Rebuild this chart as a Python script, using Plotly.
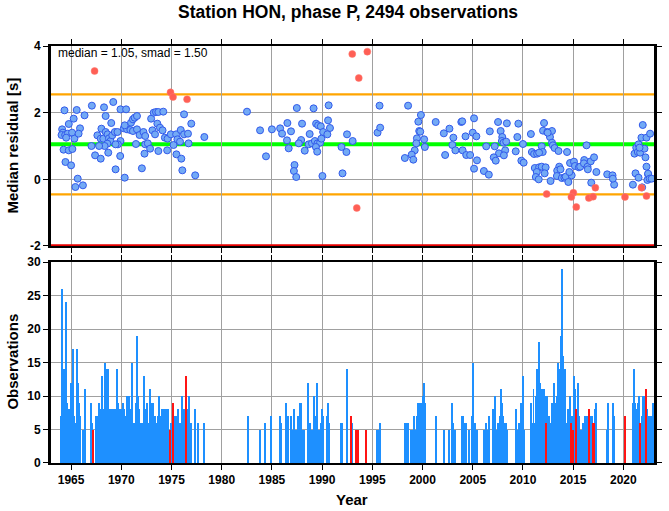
import plotly.graph_objects as go

# ---------------- data ----------------
median = 1.05
smad = 1.50
title_text = "Station HON, phase P, 2494 observations"

blue_year = [1964.34,1965.56,1965.26,1964.77,1964.11,1964.18,1964.05,1964.41,1964.67,1965.10,1965.33,1964.51,1964.25,1964.77,1965.13,1964.44,1965.00,1965.66,1965.43,1966.18,1966.34,1965.89,1965.75,1967.07,1968.28,1969.20,1968.44,1969.00,1968.02,1967.62,1967.95,1968.21,1968.44,1968.64,1968.77,1968.93,1969.10,1969.36,1969.62,1968.61,1968.34,1967.79,1967.39,1967.95,1968.70,1967.03,1969.89,1969.43,1970.34,1969.92,1970.48,1970.25,1970.57,1970.34,1970.97,1971.16,1971.33,1971.56,1970.90,1971.16,1971.56,1971.82,1972.21,1972.38,1971.46,1972.38,1972.64,1972.87,1972.31,1972.05,1969.92,1969.66,1969.43,1972.97,1973.23,1973.46,1973.69,1974.18,1973.59,1973.85,1973.10,1973.36,1974.11,1974.34,1974.61,1974.93,1973.69,1974.57,1975.46,1975.92,1976.25,1976.64,1975.49,1975.98,1976.08,1976.25,1976.97,1975.20,1976.70,1977.36,1978.27,1975.59,1975.85,
             1982.52,1983.82,1984.41,1985.00,1985.82,1986.01,1986.54,1986.90,1987.48,1988.00,1989.15,1990.65,1989.40,1989.60,1989.87,1990.59,1990.78,1990.10,1990.52,1988.76,1986.50,1987.91,1987.68,1986.67,1988.27,1988.66,1988.99,1989.28,1989.54,1989.80,1989.93,1989.38,1989.51,1987.25,1987.19,1987.42,1990.03,1992.03,1992.48,1993.04,1991.93,1992.42,
             1995.72,1998.56,1995.52,1995.78,1999.84,1999.58,1999.67,1999.77,1999.44,1999.38,2000.16,2000.23,1999.22,1998.92,1999.08,1998.24,2001.31,2002.68,2002.12,2003.07,2002.97,2003.27,2002.25,2003.86,2003.95,2004.28,2003.99,2004.35,2004.74,2005.13,2005.00,2005.36,2005.42,2005.13,2006.11,2006.60,2006.34,2007.19,2006.70,2007.52,2007.78,2007.61,2007.09,2007.29,2007.94,2007.90,2008.07,2008.23,2008.10,2008.40,2008.33,
             2009.54,2012.10,2009.44,2010.79,2010.00,2009.28,2009.84,2010.07,2012.00,2012.43,2012.89,2012.69,2012.46,2012.89,2012.98,2013.15,2011.87,2011.97,2010.89,2011.11,2011.41,2011.61,2013.54,2014.39,2011.18,2011.61,2011.87,2012.26,2011.38,2011.28,2011.57,2012.16,2012.75,2013.61,2013.41,2013.74,2013.38,2013.87,2014.13,2014.26,2014.52,2014.85,2014.62,2014.69,2015.08,2015.18,2015.57,2015.70,2016.10,2016.07,2016.43,2016.75,2017.08,2016.46,2017.31,2016.80,2016.33,2018.39,2018.92,2019.08,2018.95,2021.21,2021.51,2022.46,2022.39,2020.95,2021.87,2021.11,2021.28,2021.44,2021.67,2022.10,2022.20,2022.30,2022.46,2022.62,2022.82,2021.93,2021.80,2022.30,2022.66,2021.51,2021.61]
blue_res = [2.07,2.08,1.82,1.66,1.50,1.40,1.33,1.33,1.37,1.40,1.22,1.25,0.89,0.87,0.91,0.52,0.42,0.02,-0.23,-0.18,1.92,1.53,1.37,2.21,2.16,2.32,1.90,1.69,1.52,1.32,1.22,1.22,1.42,1.35,1.23,1.15,1.32,1.42,1.42,1.07,1.00,1.00,0.72,0.62,0.80,1.00,0.70,0.30,0.05,2.10,2.10,1.53,1.50,1.62,1.70,1.80,1.85,1.90,1.48,1.45,1.50,1.33,1.42,1.30,1.06,1.05,1.08,0.92,0.77,0.33,1.15,1.05,1.05,1.82,2.00,2.02,2.02,2.03,1.67,1.55,1.47,1.35,1.47,1.25,1.22,1.35,0.85,0.87,1.35,1.48,1.35,1.37,0.75,0.62,0.27,1.95,1.67,1.03,1.08,0.12,1.27,1.20,1.13,
            2.03,1.47,0.69,1.50,1.53,1.37,1.69,1.44,2.14,1.67,2.13,2.22,1.67,1.62,1.59,1.77,1.54,1.42,1.35,1.36,1.17,1.18,1.08,0.93,0.86,1.05,1.08,1.15,1.08,1.10,1.22,0.97,0.83,0.43,0.25,0.07,0.10,0.18,1.35,1.15,0.97,0.82,
            2.21,2.21,1.40,1.55,1.93,1.73,1.45,1.43,1.23,1.08,1.20,0.97,0.87,0.74,0.59,0.64,1.72,1.52,1.38,1.25,1.03,0.87,0.73,1.72,1.74,1.29,0.87,0.73,0.73,1.83,1.40,1.29,0.57,0.32,0.25,0.14,0.99,0.99,1.44,1.72,1.45,0.78,0.66,0.56,1.27,1.15,1.10,0.87,0.72,1.68,1.13,
            1.67,1.69,1.27,1.36,1.06,0.84,0.56,0.50,1.46,1.42,1.45,1.27,1.40,1.10,1.02,0.94,0.99,0.82,0.82,0.76,0.77,0.80,0.85,0.82,0.34,0.36,0.38,0.36,0.22,0.07,0.00,0.18,-0.05,0.38,0.26,0.30,0.10,0.04,0.05,0.08,-0.08,0.12,0.22,0.49,0.53,0.40,0.36,0.38,0.58,0.48,0.38,0.54,0.66,0.30,0.22,-0.10,1.02,0.15,0.12,-0.16,0.02,0.18,0.05,0.15,-0.02,-0.16,-0.24,0.77,0.95,0.82,0.80,0.92,0.66,0.38,0.17,0.02,0.02,1.63,1.25,1.25,1.37,1.05,0.95]

red_year = [1967.34,1974.90,1975.15,1976.55,1993.00,1994.50,1993.65,1993.45,2012.36,2015.02,2014.82,2015.31,2016.56,2016.98,2017.21,2020.16,2021.80,2022.30]
red_res = [3.25,2.61,2.47,2.40,3.76,3.83,3.04,-0.86,-0.44,-0.40,-0.53,-0.83,-0.56,-0.52,-0.25,-0.53,-0.25,-0.50]

bar_year = [1964.02,1964.11,1964.21,1964.31,1964.41,1964.51,1964.61,1964.70,1964.80,1964.90,1965.00,1965.10,1965.20,1965.30,1965.39,1965.49,1965.59,1965.69,1965.79,1965.89,1966.15,1966.25,1966.34,1967.03,1967.13,1967.46,1967.56,1967.66,1967.75,1967.85,1967.95,1968.05,1968.15,1968.25,1968.34,1968.44,1968.54,1968.64,1968.74,1968.84,1968.93,1969.03,1969.13,1969.23,1969.33,1969.43,1969.52,1969.62,1969.72,1969.82,1969.92,1970.02,1970.11,1970.21,1970.31,1970.41,1970.51,1970.61,1970.70,1970.80,1970.90,1971.00,1971.10,1971.20,1971.30,1971.39,1971.49,1971.59,1971.69,1971.79,1971.89,1972.08,1972.25,1972.34,1972.44,1972.57,1972.70,1972.87,1972.97,1973.07,1973.16,1973.26,1973.36,1973.46,1973.56,1973.66,1973.75,1973.85,1974.02,1974.18,1974.31,1974.44,1974.61,1974.67,1974.93,1975.26,1975.49,1975.69,1975.82,1975.92,1976.02,1976.11,1976.21,1976.31,1976.61,1976.70,1976.93,1977.36,1977.62,1978.28,1982.57,
            1983.79,1984.35,1984.93,1985.82,1985.92,1986.44,1986.54,1986.63,1986.90,1987.12,1987.22,1987.32,1987.45,1987.61,1987.81,1987.94,1988.10,1988.24,1988.56,1988.66,1988.76,1988.99,1989.08,1989.22,1989.31,1989.41,1989.48,1989.58,1989.67,1989.80,1989.93,1990.03,1990.13,1990.49,1990.59,1990.69,1991.90,1991.99,1992.45,1992.52,1993.01,1995.49,1995.59,1995.75,1998.24,1998.50,1998.59,1998.82,1998.99,1999.18,1999.28,1999.41,1999.51,1999.61,1999.71,1999.80,1999.90,2000.00,2000.10,2000.20,2001.31,
            2002.16,2002.65,2002.94,2003.07,2003.24,2003.89,2003.99,2004.25,2004.35,2004.64,2004.97,2005.07,2005.16,2005.26,2005.42,2006.08,2006.34,2006.47,2006.63,2007.06,2007.22,2007.39,2007.55,2007.65,2007.75,2007.84,2007.94,2008.04,2008.20,2008.30,2008.46,2009.28,2009.41,2009.61,2009.80,2009.90,2010.00,2010.13,2010.78,2010.92,2011.05,2011.14,2011.27,2011.37,2011.47,2011.57,2011.67,2011.76,2011.86,2011.96,2012.09,2012.22,2012.42,2012.55,2012.65,2012.78,2012.91,2013.01,2013.10,2013.20,2013.37,2013.46,2013.56,2013.66,2013.76,2013.86,2013.92,2014.02,2014.12,2014.22,2014.31,2014.41,2014.51,2014.61,2014.71,2014.90,2015.10,2015.20,2015.36,2015.49,2015.59,2015.82,2015.95,2016.08,2016.21,2016.31,2016.41,2016.73,2016.83,2017.22,2017.32,2018.33,2018.43,2018.92,2019.05,2020.92,2021.05,2021.14,2021.27,2021.37,2021.47,2021.57,2021.83,2021.93,2022.03,2022.16,2022.35,2022.45,2022.68,2022.84,2022.94]
bar_count = [7,26,14,14,9,24,9,8,8,7,12,7,17,7,6,6,17,12,9,7,5,5,11,9,6,7,7,7,9,7,8,13,6,8,15,13,14,14,8,5,8,7,8,6,8,8,8,14,9,7,8,5,8,9,8,5,7,10,8,10,8,7,15,6,6,6,9,19,10,8,6,6,13,8,8,9,6,11,7,9,9,7,7,6,6,7,10,7,8,8,8,8,8,8,6,7,7,8,6,6,10,6,8,6,8,10,6,8,6,6,7,
             5,6,7,7,6,9,6,7,7,5,8,5,5,7,9,9,5,5,12,6,6,5,5,10,7,5,12,5,5,5,6,8,7,7,9,6,6,6,5,14,6,5,5,6,6,6,6,5,5,7,5,7,9,7,9,5,9,10,12,9,7,
             5,5,9,6,5,7,7,6,6,5,7,15,6,6,5,5,6,5,7,8,10,5,6,6,7,11,9,7,6,6,5,8,5,6,9,9,13,5,9,6,11,6,10,14,14,18,12,8,11,6,11,10,10,7,5,6,9,9,12,9,10,15,9,14,19,29,26,16,14,14,6,6,8,8,10,7,13,11,8,12,7,5,6,6,7,5,7,7,7,8,9,5,9,9,7,9,14,9,8,7,9,10,7,10,10,7,8,7,7,7,9]

red_bar_year = [1967.23,1974.84,1975.10,1976.48,1992.91,1993.33,1993.59,1994.41,2012.32,2014.80,2015.00,2015.26,2016.54,2016.96,2017.09,2020.16,2021.70,2022.25]
red_bar_count = [5,5,9,13,7,5,5,5,6,6,5,8,8,6,6,7,6,11]

year_ticks = [1965, 1970, 1975, 1980, 1985, 1990, 1995, 2000, 2005, 2010, 2015, 2020]
res_ticks = [-2, 0, 2, 4]
obs_ticks = [0, 5, 10, 15, 20, 25, 30]

# ---------------- figure ----------------
FONT = "Liberation Sans, Arial, Helvetica, sans-serif"
BLUE_BAR = "rgb(30,144,255)"
GRID = "rgb(160,160,160)"
XR = [1963.0, 2023.05]
BAR_W = 0.1

fig = go.Figure()

fig.add_trace(go.Bar(x=bar_year, y=bar_count, width=BAR_W, xaxis="x2", yaxis="y2",
                     marker=dict(color=BLUE_BAR, line=dict(width=0)), showlegend=False))
fig.add_trace(go.Bar(x=red_bar_year, y=red_bar_count, width=BAR_W, xaxis="x2", yaxis="y2",
                     marker=dict(color="rgb(255,20,20)", line=dict(width=0)), showlegend=False))

fig.add_trace(go.Scatter(x=blue_year, y=blue_res, mode="markers", xaxis="x", yaxis="y",
                         marker=dict(size=7, color="rgb(115,170,245)",
                                     line=dict(color="rgb(50,90,235)", width=1)),
                         showlegend=False))
fig.add_trace(go.Scatter(x=red_year, y=red_res, mode="markers", xaxis="x", yaxis="y",
                         marker=dict(size=7, color="rgb(255,95,85)",
                                     line=dict(color="rgb(255,120,110)", width=0.5)),
                         showlegend=False))

shapes = [
    dict(type="line", xref="x domain", yref="y", x0=0, x1=1, y0=median + smad, y1=median + smad,
         line=dict(color="rgb(255,165,0)", width=2.3), layer="below"),
    dict(type="line", xref="x domain", yref="y", x0=0, x1=1, y0=median - smad, y1=median - smad,
         line=dict(color="rgb(255,165,0)", width=2.3), layer="below"),
    dict(type="line", xref="x domain", yref="y", x0=0, x1=1, y0=median, y1=median,
         line=dict(color="rgb(0,255,0)", width=4), layer="below"),
    dict(type="line", xref="x domain", yref="y", x0=0, x1=1, y0=res_ticks[0], y1=res_ticks[0],
         line=dict(color="rgb(230,0,0)", width=3.5), layer="above"),
]

bold = lambda v: f"<b>{v}</b>"

axis_common = dict(showgrid=True, gridcolor=GRID, gridwidth=1, zeroline=False,
                   ticks="outside", ticklen=5, tickwidth=1, tickcolor="black",
                   showline=True, linecolor="black", mirror="ticks")

fig.update_layout(
    width=669, height=511,
    margin=dict(l=51, r=7, t=46, b=48),
    paper_bgcolor="white", plot_bgcolor="white",
    font=dict(family=FONT, size=12, color="black"),
    barmode="overlay", bargap=0,
    xaxis=dict(domain=[0, 1], anchor="y", range=XR, tickvals=year_ticks,
               showticklabels=False, linewidth=2, **axis_common),
    yaxis=dict(domain=[0.5204, 1], anchor="x", range=[-2, 4], tickvals=res_ticks,
               ticktext=[bold(v) for v in res_ticks], linewidth=3,
               tickfont=dict(size=12), **axis_common),
    xaxis2=dict(domain=[0, 1], anchor="y2", range=XR, tickvals=year_ticks,
                ticktext=[bold(v) for v in year_ticks], linewidth=2,
                tickfont=dict(size=12), **axis_common),
    yaxis2=dict(domain=[0, 0.482], anchor="x2", range=[0, 30], tickvals=obs_ticks,
                ticktext=[bold(v) for v in obs_ticks], linewidth=3,
                tickfont=dict(size=12), **axis_common),
    shapes=shapes,
    annotations=[
        dict(text=bold(title_text), xref="paper", yref="paper", x=0.4925, y=1.0815,
             xanchor="center", yanchor="middle", showarrow=False, font=dict(size=17.5)),
        dict(text=f"median = {median:.2f}, smad = {smad:.2f}", xref="paper", yref="paper",
             x=0.008, y=0.983, xanchor="left", yanchor="middle", showarrow=False,
             font=dict(size=12)),
        dict(text=bold("Median residual [s]"), xref="paper", yref="paper", x=-0.0638, y=0.760,
             xanchor="center", yanchor="middle", textangle=-90, showarrow=False,
             font=dict(size=15)),
        dict(text=bold("Observations"), xref="paper", yref="paper", x=-0.0638, y=0.242,
             xanchor="center", yanchor="middle", textangle=-90, showarrow=False,
             font=dict(size=15)),
        dict(text=bold("Year"), xref="paper", yref="paper", x=0.499, y=-0.0887,
             xanchor="center", yanchor="middle", showarrow=False, font=dict(size=15)),
    ],
)

fig.write_html("out.html", config={"displayModeBar": False},
               post_script="document.body.style.margin='0px';")
